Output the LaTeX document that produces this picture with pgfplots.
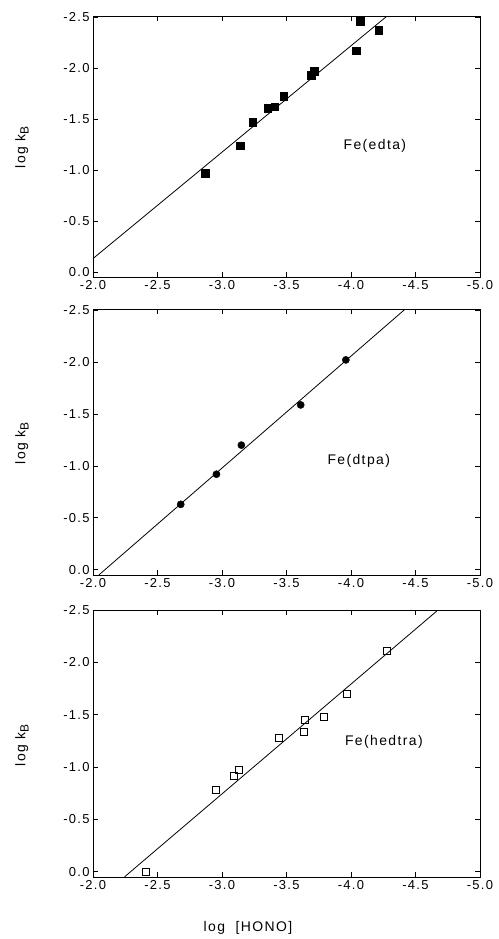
\documentclass[border=0pt]{standalone}
\usepackage{fontspec}
\setmainfont{Liberation Sans}[LetterSpace=10]
\usepackage{pgfplots}
\pgfplotsset{compat=1.18}
\pgfplotsset{
  myax/.style={
    scale only axis, width=387bp,
    x dir=reverse, y dir=reverse,
    xmin=-5, xmax=-2,
    xtick={-2.0,-2.5,-3.0,-3.5,-4.0,-4.5,-5.0},
    xticklabels={{-2.0},{-2.5},{-3.0},{-3.5},{-4.0},{-4.5},{-5.0}},
    ytick={0,-0.5,-1.0,-1.5,-2.0,-2.5},
    yticklabels={{0.0},{-0.5},{-1.0},{-1.5},{-2.0},{-2.5}},
    tick align=inside, xtick pos=both, ytick pos=both,
    major tick length=5bp,
    ticklabel style={font=\fontsize{13}{15}\selectfont},
    axis line style={line width=0.8bp},
    every tick/.style={black, line width=0.8bp},
    anchor=north west,
  }
}
\newcommand{\ylab}{log k\textsubscript{\fontsize{12}{14}\selectfont B}}
\begin{document}
\begin{tikzpicture}
\path (0,0) rectangle (499bp,-939bp);
% Panel 1: Fe(edta)
\begin{axis}[myax, at={(93bp,-16bp)}, height=261bp, ymin=-2.51, ymax=0.05]
\addplot[black, line width=0.8bp, no marks] coordinates {(-2.0,-0.131) (-4.28,-2.51)};
\addplot[only marks, mark=square*, mark size=3.7bp, black] coordinates {
(-2.87,-0.97) (-3.14,-1.24) (-3.24,-1.47) (-3.355,-1.605) (-3.41,-1.618)
(-3.48,-1.725) (-3.69,-1.93) (-3.715,-1.967) (-4.04,-2.17) (-4.07,-2.46) (-4.215,-2.37)};
\node[font=\fontsize{14}{16}\selectfont] at (axis cs:-4.185,-1.235) {Fe(edta)};
\end{axis}
% Panel 2: Fe(dtpa)
\begin{axis}[myax, at={(93bp,-309bp)}, height=266bp, ymin=-2.51, ymax=0.05]
\addplot[black, line width=0.8bp, no marks] coordinates {(-2.045,0.05) (-4.43,-2.52)};
\addplot[only marks, mark=*, mark size=3.6bp, black] coordinates {
(-2.68,-0.63) (-2.957,-0.92) (-3.15,-1.20) (-3.61,-1.587) (-3.96,-2.02)};
\node[font=\fontsize{14}{16}\selectfont] at (axis cs:-4.06,-1.048) {Fe(dtpa)};
\end{axis}
% Panel 3: Fe(hedtra)
\begin{axis}[myax, at={(93bp,-610bp)}, height=267bp, ymin=-2.5, ymax=0.05]
\addplot[black, line width=0.8bp, no marks] coordinates {(-2.245,0.048) (-4.665,-2.49)};
\addplot[only marks, mark=square, mark size=3.5bp, black, mark options={line width=0.8bp}] coordinates {
(-2.407,0.0) (-2.956,-0.778) (-3.095,-0.911) (-3.131,-0.971) (-3.438,-1.279)
(-3.637,-1.337) (-3.639,-1.451) (-3.79,-1.479) (-3.966,-1.695) (-4.276,-2.105)};
\node[font=\fontsize{14}{16}\selectfont] at (axis cs:-4.255,-1.244) {Fe(hedtra)};
\end{axis}
\node[rotate=90, font=\fontsize{14}{16}\selectfont] at (22bp,-147bp) {\ylab};
\node[rotate=90, font=\fontsize{14}{16}\selectfont] at (22bp,-443bp) {\ylab};
\node[rotate=90, font=\fontsize{14}{16}\selectfont] at (22bp,-745bp) {\ylab};
\node[font=\fontsize{14}{16}\selectfont] at (248bp,-928bp) {log\ \ [HONO]};
\end{tikzpicture}
\end{document}
